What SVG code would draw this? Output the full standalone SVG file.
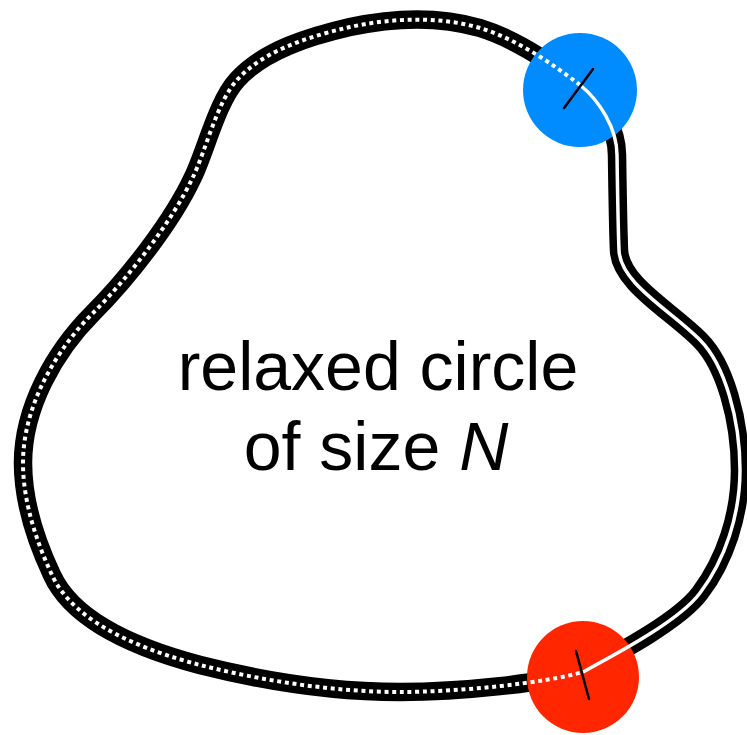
<svg xmlns="http://www.w3.org/2000/svg" width="747" height="735" viewBox="0 0 747 735">
  <style>
    .band { fill: none; stroke: #000; stroke-width: 18.5; stroke-linejoin: round; }
    .dotted { fill: none; stroke: #fff; stroke-width: 4; stroke-dasharray: 4 3.7; }
    .solid { fill: none; stroke: #fff; stroke-width: 3.5; }
    .tick { stroke: #000; stroke-width: 2.5; stroke-linecap: round; }
    .label { font-family: "Liberation Sans", Arial, Helvetica, sans-serif; font-size: 68px; fill: #000; text-anchor: middle; }
  </style>
  <defs>
    <path id="leftArc" d="M580,85 C550,62 516,39 480,28 C439,16 392,18 350,27 C311,36 264,50 237,80 C217,102 206,150 193,177 C172,222 128,278 93,313 C54,352 23,408 23,463 C23,501 36,541 52,575 C75,625 147,651 200,665 C263,681 335,692 400,692 C460,692 545,683 583,672"/>
    <path id="rightArc" d="M580,85 C600,101 617,129 617,155 C617.5,190 618,225 619,250 C620,283 670,310 700,340 C725,365 740,420 740,470 C740,515 725,560 700,593 C680,620 620,652 583,672"/>
  </defs>
  <g id="connectors">
    <use href="#leftArc" class="band"/>
    <use href="#rightArc" class="band"/>
  </g>
  <g id="blue-node">
    <circle cx="580" cy="90" r="57" fill="#008cff"/>
  </g>
  <g id="red-node">
    <circle cx="583" cy="677" r="56" fill="#ff2600"/>
  </g>
  <g id="inner-lines">
    <use href="#leftArc" class="dotted"/>
    <use href="#rightArc" class="solid"/>
  </g>
  <g id="ticks">
    <line class="tick" x1="564" y1="108" x2="593" y2="69"/>
    <line class="tick" x1="576" y1="651" x2="589" y2="699"/>
  </g>
  <g id="label">
    <text class="label" x="378" y="390">relaxed circle</text>
    <text class="label" x="376" y="470">of size <tspan font-style="italic">N</tspan></text>
  </g>
</svg>
